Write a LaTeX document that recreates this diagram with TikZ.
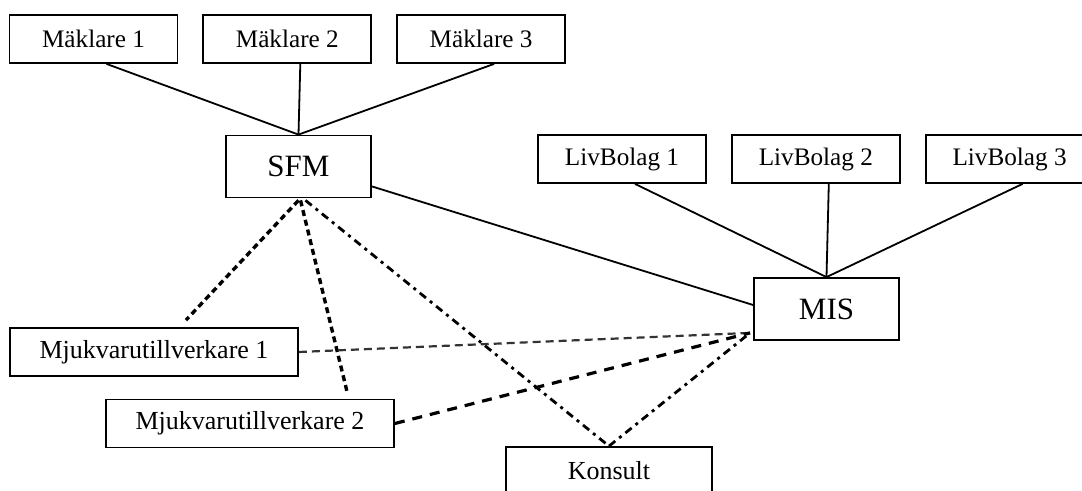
\documentclass[tikz,border=0pt]{standalone}
\usepackage{fontspec}
\setmainfont{Liberation Serif}
\usetikzlibrary{calc,positioning}

\begin{document}
\begin{tikzpicture}[x=0.5pt,y=-0.5pt,node distance=12pt and 12pt]

\tikzset{smallbox/.style={draw,line width=0.9pt,inner sep=0pt,minimum width=84pt,minimum height=24pt,font=\fontsize{12.6}{15}\selectfont},
hubbox/.style={draw,line width=0.9pt,inner sep=0pt,minimum width=72.5pt,minimum height=31pt,font=\fontsize{15.5}{18}\selectfont},
widebox/.style={draw,line width=0.9pt,inner sep=0pt,minimum width=144pt,minimum height=24pt,font=\fontsize{13}{16}\selectfont},
link/.style={line width=0.9pt},
dotlink/.style={line width=1.7pt,dash pattern=on 3pt off 2pt},
dashdotlink/.style={line width=1.4pt,dash pattern=on 4pt off 2.5pt on 1.5pt off 2.5pt},
thinlink/.style={line width=1.1pt,black!80,dash pattern=on 4pt off 2.5pt},
longlink/.style={line width=1.6pt,dash pattern=on 5pt off 4pt}}

\useasboundingbox (0,0) rectangle (1082,491);

% Brokers
\node [smallbox] (m1) at (93.5,39) {Mäklare 1};
\node [right=of m1,smallbox] (m2) {Mäklare 2};
\node [right=of m2,smallbox] (m3) {Mäklare 3};

% Life companies
\node [smallbox] (lb1) at (622,159) {LivBolag 1};
\node [right=of lb1,smallbox] (lb2) {LivBolag 2};
\node [right=of lb2,smallbox] (lb3) {LivBolag 3};

% Hubs
\node [hubbox] (sfm) at (298.5,166.5) {SFM};
\node [hubbox] (mis) at (826.5,309) {MIS};

% Others
\node [widebox] (mj1) at (154,352) {Mjukvarutillverkare 1};
\node [widebox] (mj2) at (250,423.5) {Mjukvarutillverkare 2};
\node [widebox,minimum width=103pt] (kon) at (609,471) {Konsult};

% loose ends
\coordinate (mj1top) at ($(mj1.north)+(32,-7)$);
\coordinate (mj2top) at ($(mj2.north)+(97,-7)$);
\coordinate (misin) at ($(mis.south west)+(-3,-8)$);

% Solid edges
\foreach \b in {m1,m2,m3} \draw[link] ($(\b.south)+(13,0)$) -- (sfm.north);
\foreach \b in {lb1,lb2,lb3} \draw[link] ($(\b.south)+(13,0)$) -- (mis.north);
\draw[link] ($(sfm.south east)+(0,-12)$) -- ($(mis.west)+(0,-4)$);

% Dashed edges
\draw[dotlink] ($(sfm.south)+(0,2)$) -- (mj1top);
\draw[dotlink] ($(sfm.south)+(2,2)$) -- (mj2top);
\draw[dashdotlink] ($(sfm.south)+(7,2)$) -- (kon.north);
\draw[thinlink] (mj1.east) -- (misin);
\draw[longlink] (mj2.east) -- (misin);
\draw[dashdotlink] (kon.north) -- (misin);

\end{tikzpicture}
\end{document}
